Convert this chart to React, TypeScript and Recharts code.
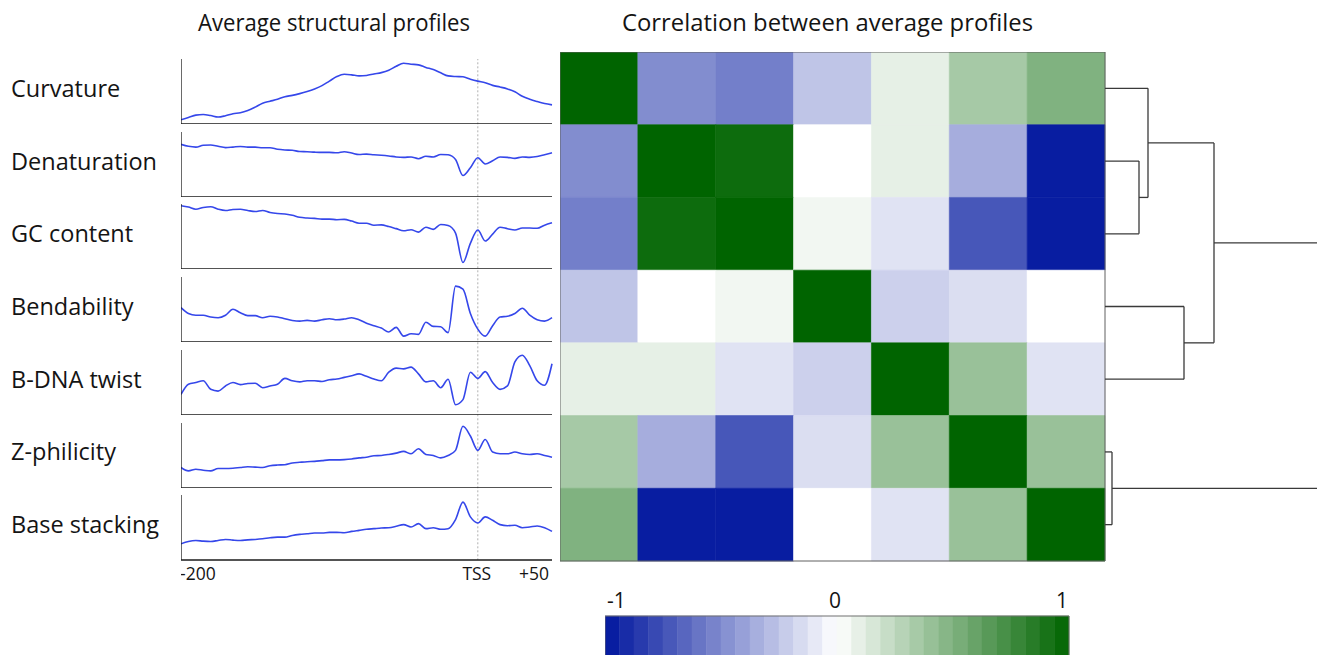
import React from 'react';
import {
  ComposedChart,
  LineChart,
  Line,
  XAxis,
  YAxis,
  ReferenceArea,
  ReferenceLine,
} from 'recharts';

// ---------- data ----------
const profileNames = [
  'Curvature',
  'Denaturation',
  'GC content',
  'Bendability',
  'B-DNA twist',
  'Z-philicity',
  'Base stacking',
];

// positions relative to the TSS (bp)
const positions = [
  -200, -195, -190, -185, -180, -175, -170, -165, -160, -155, -150, -145, -140,
  -135, -130, -125, -120, -115, -110, -105, -100, -95, -90, -85, -80, -75, -70,
  -65, -60, -55, -50, -45, -40, -35, -30, -25, -20, -15, -10, -5, 0, 5, 10, 15,
  20, 25, 30, 35, 40, 45, 50,
];
const positionTicks = [-200, -100, 0, 50];
const positionLabelTicks = [-200, 0, 50];
const positionLabels: Record<number, string> = { [-200]: '-200', 0: 'TSS', 50: '+50' };

// average profiles, scaled to 0..100 within each panel
const curvature = [
  6.6, 10, 13.7, 14.7, 13, 10.7, 12.7, 15.7, 17.3, 20.8, 26, 32, 35, 38, 42, 44,
  46.7, 50, 54, 59, 66, 73, 76.6, 75.6, 74, 74.6, 77, 79, 82.7, 88.8, 93.4, 92,
  91, 87, 83.8, 78.7, 74, 73, 72.6, 69, 66, 63.5, 59.4, 56.9, 54, 49.7, 42.6, 38,
  34.5, 31.5, 29.4,
];
const denaturation = [
  81, 78, 76.8, 79.5, 80, 78, 76, 76.8, 77.8, 76.8, 76.8, 75.7, 75.7, 73.5, 72.4,
  71.9, 70, 69.7, 69, 68.6, 68.6, 68, 69.7, 67.6, 65.4, 66, 64.9, 64.3, 63.2,
  61.6, 61, 61.6, 58.9, 62.7, 61.6, 65.4, 64.9, 57.8, 33, 45, 60.5, 50.8, 55.7,
  61.6, 61, 59.5, 61.6, 61, 62.2, 65, 68,
];
const gcContent = [
  97.4, 95.3, 92, 94.7, 95.8, 92, 90, 91.6, 92, 90, 88.4, 90, 86.8, 85.3, 84.7,
  82.6, 79.5, 78.4, 77.9, 76.8, 76.8, 75.8, 76.3, 73.7, 70.5, 70.5, 67.4, 67.9,
  65.3, 62.1, 58.9, 60.5, 56.8, 64.2, 61, 68.4, 66.8, 55.3, 10, 39.5, 60, 43,
  53.7, 64.2, 62, 60, 63, 63, 62.6, 67.4, 71,
];
const bendability = [
  53, 43.9, 41.2, 41.2, 38.5, 37.4, 41.2, 50.3, 44.9, 40.6, 40.6, 37.4, 39.6,
  38.5, 35.8, 33.2, 32.1, 33.2, 32.1, 34.2, 35.8, 34.2, 35.3, 37.4, 34.2, 28.9,
  25.1, 21.4, 15.5, 22.5, 9, 12.8, 11.8, 30.5, 24, 23.5, 14.4, 86, 81.3, 43.9,
  19.8, 9, 25, 38.5, 39.6, 43.9, 51.9, 41.2, 34.2, 32.1, 37.4,
];
const bdnaTwist = [
  31.6, 47.4, 50, 52.6, 39.5, 36.8, 44.7, 50, 46.8, 48.4, 48.9, 42, 44.7, 47.4,
  56.3, 52.6, 51, 52.6, 52.6, 51.6, 54.2, 55.3, 57.9, 60.5, 63.2, 59.5, 55.3,
  52.6, 65.8, 72.1, 71, 73.7, 63.2, 51, 52.6, 42, 55, 15.8, 23.7, 65.8, 56.3,
  66.8, 50, 39.5, 44.7, 81.6, 92, 76, 52.6, 45.8, 78.9,
];
const zPhilicity = [
  31.6, 26.3, 28.9, 27.4, 26.3, 30, 30, 30.5, 31.6, 32.6, 32.1, 31.6, 34.2, 35.3,
  35.8, 38.4, 39.5, 40.5, 41, 42.1, 43.2, 43.2, 43.7, 44.7, 46.3, 47.4, 49.5, 50,
  51.6, 53.7, 56.3, 52.6, 60.5, 51.6, 50, 46.3, 50, 57.9, 95, 80, 57.9, 74.7,
  55.3, 52.6, 52.6, 55.3, 52.6, 51.6, 52.6, 50, 47.4,
];
const baseStacking = [
  24.9, 28.5, 30, 29, 28.5, 30, 31.6, 30.6, 30, 31, 31.6, 32.6, 34.2, 35.2, 35.2,
  37.8, 39.4, 40.4, 41.5, 41.5, 42.5, 42.5, 42, 44, 45.6, 47.2, 48.2, 49.2, 49.7,
  51.8, 54.4, 50.8, 56, 48.2, 49.7, 47.2, 48.2, 62.2, 89, 66.3, 57, 66.3, 61.1,
  54.4, 52.8, 53.4, 49.7, 50.8, 52.3, 49.7, 44,
];
const profileSeries = [
  curvature,
  denaturation,
  gcContent,
  bendability,
  bdnaTwist,
  zPhilicity,
  baseStacking,
];

// correlation matrix between the average profiles (row/column order = profileNames)
const correlation = [
  [1, -0.49, -0.55, -0.25, 0.1, 0.35, 0.5],
  [-0.49, 1, 0.95, 0, 0.1, -0.35, -0.97],
  [-0.55, 0.95, 1, 0.05, -0.12, -0.72, -0.97],
  [-0.25, 0, 0.05, 1, -0.2, -0.14, 0],
  [0.1, 0.1, -0.12, -0.2, 1, 0.4, -0.12],
  [0.35, -0.35, -0.72, -0.14, 0.4, 1, 0.4],
  [0.5, -0.97, -0.97, 0, -0.12, 0.4, 1],
];
const cellCenters = [0.5, 1.5, 2.5, 3.5, 4.5, 5.5, 6.5];

// hierarchical clustering: [nodeA, nodeB, height]; leaves 0..6, merged nodes numbered from 7
const linkage: [number, number, number][] = [
  [1, 2, 0.34],
  [0, 7, 0.43],
  [3, 4, 0.79],
  [5, 6, 0.07],
  [8, 9, 1.09],
  [11, 10, 2.6],
];

const colorbarTicks = [-1, -0.8, -0.6, -0.4, -0.2, 0, 0.2, 0.4, 0.6, 0.8, 1];
const colorbarLabelTicks = [-1, 0, 1];
const colorbarLevels = 32;

// ---------- styling ----------
const FONT = '"Open Sans", "DejaVu Sans", sans-serif';
const TEXT = '#141414';
const NEG_END = [0, 22, 158];
const POS_END = [0, 100, 0];
const LINE_BLUE = '#3547ea';

const HEAT_LEFT = 560;
const HEAT_TOP = 52;
const HEAT_W = 545;
const HEAT_H = 509;
const ROW_H = HEAT_H / 7;

const PANEL_LEFT = 181;
const PANEL_TOP = 59;
const PANEL_W = 371;
const PANEL_H = 65;
const LABEL_H = 30;

const ZERO_MARGIN = { top: 0, right: 0, bottom: 0, left: 0 };

function corrColor(v: number): string {
  const t = Math.min(1, Math.abs(v));
  const end = v < 0 ? NEG_END : POS_END;
  const c = end.map((e) => Math.round(255 + (e - 255) * t));
  return `rgb(${c[0]},${c[1]},${c[2]})`;
}

// ---------- profile panels ----------
function PositionTick(props: any) {
  const { x, y, payload } = props;
  const v = payload.value as number;
  const anchor = v === -200 ? 'start' : v === 50 ? 'end' : 'middle';
  const dx = v === -200 ? -1 : v === 50 ? -3 : -1;
  return (
    <text
      x={x}
      y={y}
      dx={dx}
      dy={20}
      textAnchor={anchor}
      fontSize={17.5}
      fontFamily={FONT}
      fill={TEXT}
    >
      {positionLabels[v]}
    </text>
  );
}

function ProfilePanel({ index }: { index: number }) {
  const series = profileSeries[index];
  const data = positions.map((x, i) => ({ x, v: series[i] }));
  const isLast = index === profileNames.length - 1;
  const top = PANEL_TOP + index * ROW_H;
  return (
    <div style={{ position: 'absolute', left: PANEL_LEFT, top }}>
      <LineChart
        width={PANEL_W + 3}
        height={PANEL_H + (isLast ? LABEL_H : 0)}
        data={data}
        margin={{ top: 0, right: 3, bottom: 0, left: 0 }}
      >
        <XAxis
          xAxisId="ticks"
          type="number"
          dataKey="x"
          domain={[-200, 50]}
          ticks={positionTicks}
          interval={0}
          mirror
          height={1}
          tick={false}
          tickSize={3}
          axisLine={{ stroke: '#1a1a1a', strokeWidth: 1.3 }}
          tickLine={{ stroke: '#1a1a1a', strokeWidth: 1.2 }}
        />
        {isLast && (
          <XAxis
            xAxisId="labels"
            type="number"
            dataKey="x"
            domain={[-200, 50]}
            ticks={positionLabelTicks}
            interval={0}
            height={LABEL_H}
            axisLine={false}
            tickLine={false}
            tickSize={0}
            tickMargin={0}
            tick={(p: any) => <PositionTick {...p} />}
          />
        )}
        <YAxis
          type="number"
          domain={[0, 100]}
          mirror
          width={1}
          tick={false}
          tickLine={false}
          axisLine={{ stroke: '#1a1a1a', strokeWidth: 1.3 }}
        />
        <Line
          xAxisId="ticks"
          dataKey="v"
          type="monotone"
          stroke={LINE_BLUE}
          strokeWidth={1.6}
          dot={false}
          isAnimationActive={false}
        />
      </LineChart>
    </div>
  );
}

// dotted TSS marker running through all profile panels
function TssMarker() {
  const data = [
    { x: -200, y: 0 },
    { x: 50, y: 1 },
  ];
  const height = 6 * ROW_H + PANEL_H;
  return (
    <div style={{ position: 'absolute', left: PANEL_LEFT, top: PANEL_TOP }}>
      <ComposedChart width={PANEL_W + 3} height={height} data={data} margin={{ top: 0, right: 3, bottom: 0, left: 0 }}>
        <XAxis type="number" dataKey="x" domain={[-200, 50]} hide allowDataOverflow />
        <YAxis type="number" dataKey="y" domain={[0, 1]} hide allowDataOverflow />
        <ReferenceLine
          segment={[
            { x: 0, y: 0 },
            { x: 0, y: 1 },
          ]}
          stroke="#b0b0b0"
          strokeWidth={1}
          strokeDasharray="2 2"
          ifOverflow="visible"
        />
      </ComposedChart>
    </div>
  );
}

// ---------- heatmap ----------
function Heatmap() {
  const cells = correlation.flatMap((row, r) => row.map((v, c) => ({ r, c, v })));
  const axisLine = { stroke: '#606060', strokeWidth: 1 };
  const tickLine = { stroke: '#2a2a2a', strokeWidth: 1.2 };
  return (
    <div style={{ position: 'absolute', left: HEAT_LEFT, top: HEAT_TOP }}>
      <ComposedChart
        width={HEAT_W + 1}
        height={HEAT_H + 1}
        data={cells}
        margin={{ top: 0, right: 1, bottom: 1, left: 0 }}
      >
        {cells.map((cell) => (
          <ReferenceArea
            key={`${cell.r}-${cell.c}`}
            xAxisId="bottom"
            yAxisId="left"
            x1={cell.c}
            x2={cell.c + 1}
            y1={cell.r}
            y2={cell.r + 1}
            fill={corrColor(cell.v)}
            fillOpacity={1}
            stroke={corrColor(cell.v)}
            strokeWidth={0.6}
            ifOverflow="visible"
          />
        ))}
        <XAxis xAxisId="bottom" orientation="bottom" type="number" dataKey="c" domain={[0, 7]} ticks={cellCenters} interval={0} mirror height={1} tick={false} tickSize={5} axisLine={axisLine} tickLine={tickLine} />
        <XAxis xAxisId="top" orientation="top" type="number" dataKey="c" domain={[0, 7]} ticks={cellCenters} interval={0} mirror height={1} tick={false} tickSize={4} axisLine={axisLine} tickLine={tickLine} />
        <YAxis yAxisId="left" orientation="left" type="number" dataKey="r" domain={[0, 7]} reversed ticks={cellCenters} interval={0} mirror width={1} tick={false} tickSize={5} axisLine={axisLine} tickLine={tickLine} />
        <YAxis yAxisId="right" orientation="right" type="number" dataKey="r" domain={[0, 7]} reversed ticks={cellCenters} interval={0} mirror width={1} tick={false} tickSize={6} axisLine={axisLine} tickLine={tickLine} />
      </ComposedChart>
    </div>
  );
}

// ---------- dendrogram ----------
function dendrogramSegments() {
  const nodeY: number[] = profileNames.map((_, i) => i + 0.5);
  const nodeX: number[] = profileNames.map(() => 0);
  const segs: { x1: number; y1: number; x2: number; y2: number }[] = [];
  linkage.forEach(([a, b, h]) => {
    segs.push({ x1: nodeX[a], y1: nodeY[a], x2: h, y2: nodeY[a] });
    segs.push({ x1: nodeX[b], y1: nodeY[b], x2: h, y2: nodeY[b] });
    segs.push({ x1: h, y1: nodeY[a], x2: h, y2: nodeY[b] });
    nodeY.push((nodeY[a] + nodeY[b]) / 2);
    nodeX.push(h);
  });
  return segs;
}

function Dendrogram() {
  const segs = dendrogramSegments();
  const dummy = profileNames.map((_, i) => ({ x: 0, y: i + 0.5 }));
  return (
    <div style={{ position: 'absolute', left: HEAT_LEFT + HEAT_W, top: HEAT_TOP }}>
      <ComposedChart width={212} height={HEAT_H} data={dummy} margin={ZERO_MARGIN}>
        <XAxis type="number" dataKey="x" domain={[0, 2.12]} hide allowDataOverflow />
        <YAxis type="number" dataKey="y" domain={[0, 7]} reversed hide allowDataOverflow />
        {segs.map((s, i) => (
          <ReferenceLine
            key={i}
            segment={[
              { x: s.x1, y: s.y1 },
              { x: s.x2, y: s.y2 },
            ]}
            stroke="#3a3a3a"
            strokeWidth={1.3}
            ifOverflow="hidden"
          />
        ))}
      </ComposedChart>
    </div>
  );
}

// ---------- colorbar ----------
function ColorbarTick(props: any) {
  const { x, y, payload } = props;
  const v = payload.value as number;
  const anchor = v === -1 ? 'start' : v === 1 ? 'end' : 'middle';
  const dx = v === -1 ? 2 : v === 1 ? -1 : -2;
  return (
    <text x={x} y={y} dx={dx} dy={-8} textAnchor={anchor} fontSize={21} fontFamily={FONT} fill={TEXT}>
      {String(v)}
    </text>
  );
}

function Colorbar() {
  const step = 2 / colorbarLevels;
  const bands = Array.from({ length: colorbarLevels }, (_, i) => {
    const x1 = -1 + i * step;
    return { x1, x2: x1 + step, color: corrColor(x1 + step / 2) };
  });
  const dummy = [{ x: -1, y: 0 }, { x: 1, y: 1 }];
  const axisLine = { stroke: '#707070', strokeWidth: 1 };
  const tickLine = { stroke: '#333', strokeWidth: 1.1 };
  return (
    <div style={{ position: 'absolute', left: 605, top: 586 }}>
      <ComposedChart width={466} height={70} data={dummy} margin={{ top: 0, right: 2, bottom: 0, left: 0 }}>
        {bands.map((b, i) => (
          <ReferenceArea
            key={i}
            xAxisId="top"
            yAxisId="left"
            x1={b.x1}
            x2={b.x2}
            y1={0}
            y2={1}
            fill={b.color}
            fillOpacity={1}
            stroke={b.color}
            strokeWidth={0.5}
            ifOverflow="visible"
          />
        ))}
        <XAxis xAxisId="labels" orientation="top" type="number" dataKey="x" domain={[-1, 1]} ticks={colorbarLabelTicks} interval={0} height={30} axisLine={false} tickLine={false} tickSize={0} tickMargin={0} tick={(p: any) => <ColorbarTick {...p} />} />
        <XAxis xAxisId="top" orientation="top" type="number" dataKey="x" domain={[-1, 1]} ticks={colorbarTicks} interval={0} mirror height={1} tick={false} tickSize={5} axisLine={axisLine} tickLine={tickLine} />
        <XAxis xAxisId="bottom" orientation="bottom" type="number" dataKey="x" domain={[-1, 1]} ticks={colorbarTicks} interval={0} mirror height={1} tick={false} tickSize={6} axisLine={axisLine} tickLine={tickLine} />
        <YAxis yAxisId="left" orientation="left" type="number" dataKey="y" domain={[0, 1]} mirror width={1} tick={false} tickLine={false} axisLine={axisLine} />
        <YAxis yAxisId="right" orientation="right" type="number" dataKey="y" domain={[0, 1]} mirror width={1} tick={false} tickLine={false} axisLine={axisLine} />
      </ComposedChart>
    </div>
  );
}

// ---------- page ----------
export default function App() {
  return (
    <div
      style={{
        position: 'absolute',
        left: 0,
        top: 0,
        width: 1317,
        height: 655,
        overflow: 'hidden',
        background: '#ffffff',
        fontFamily: FONT,
      }}
    >
      <svg width={1317} height={655} style={{ position: 'absolute', left: 0, top: 0 }}>
        <text
          x={198}
          y={31}
          fontSize={23.5}
          fontFamily={FONT}
          fill={TEXT}
          textLength={272}
          lengthAdjust="spacingAndGlyphs"
        >
          Average structural profiles
        </text>
        <text
          x={622}
          y={31}
          fontSize={23.5}
          fontFamily={FONT}
          fill={TEXT}
          textLength={411}
          lengthAdjust="spacingAndGlyphs"
        >
          Correlation between average profiles
        </text>
        {profileNames.map((name, i) => (
          <text
            key={name}
            x={11}
            y={HEAT_TOP + ROW_H * (i + 0.5) + 8.5}
            fontSize={23.5}
            fontFamily={FONT}
            fill={TEXT}
          >
            {name}
          </text>
        ))}
      </svg>
      <TssMarker />
      {profileNames.map((name, i) => (
        <ProfilePanel key={name} index={i} />
      ))}
      <Heatmap />
      <Dendrogram />
      <Colorbar />
    </div>
  );
}
